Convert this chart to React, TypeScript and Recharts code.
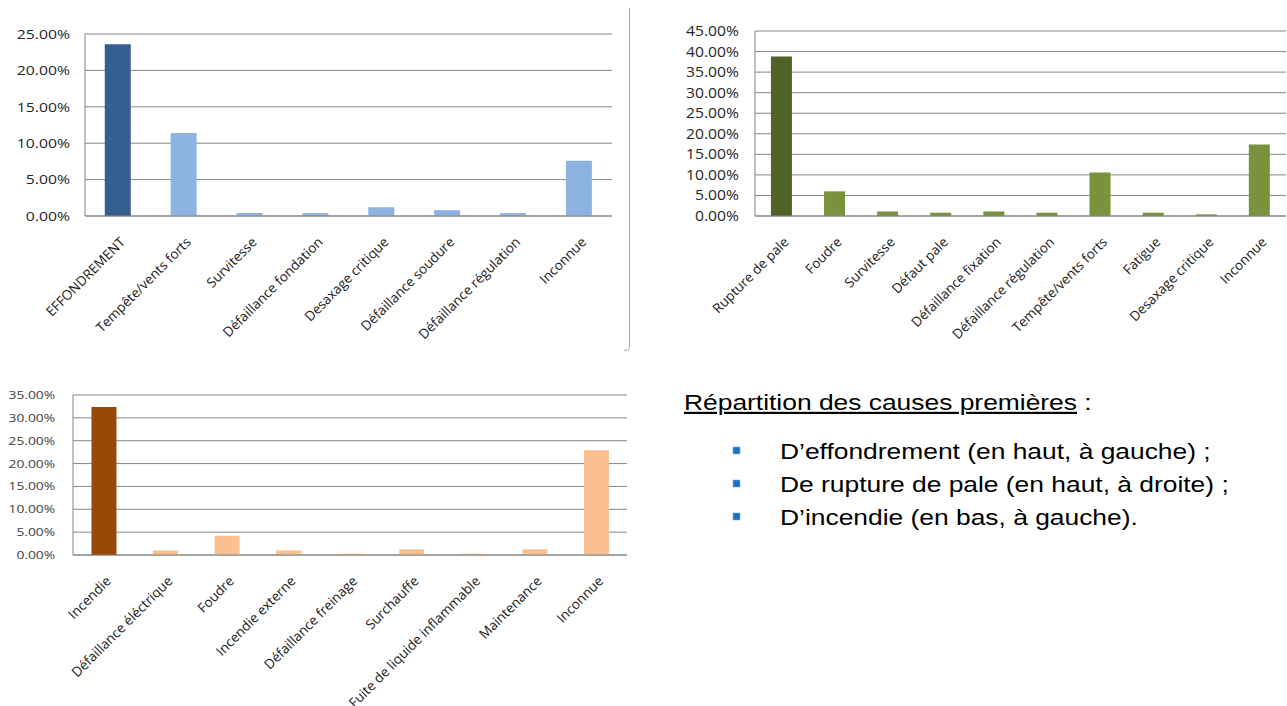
import React from 'react';
import { BarChart, Bar, XAxis, YAxis, CartesianGrid, Cell } from 'recharts';

// top-left : effondrement
const collapseCauses = ['EFFONDREMENT', 'Tempête/vents forts', 'Survitesse', 'Défaillance fondation', 'Desaxage critique', 'Défaillance soudure', 'Défaillance régulation', 'Inconnue'];
const collapseShare = [0.236, 0.114, 0.004, 0.004, 0.012, 0.008, 0.004, 0.076];
const collapseTicks = [0, 0.05, 0.1, 0.15, 0.2, 0.25];

// top-right : rupture de pale
const bladeCauses = ['Rupture de pale', 'Foudre', 'Survitesse', 'Défaut pale', 'Défaillance fixation', 'Défaillance régulation', 'Tempête/vents forts', 'Fatigue', 'Desaxage critique', 'Inconnue'];
const bladeShare = [0.388, 0.06, 0.011, 0.008, 0.011, 0.008, 0.106, 0.008, 0.004, 0.174];
const bladeTicks = [0, 0.05, 0.1, 0.15, 0.2, 0.25, 0.3, 0.35, 0.4, 0.45];

// bottom-left : incendie
const fireCauses = ['Incendie', 'Défaillance éléctrique', 'Foudre', 'Incendie externe', 'Défaillance freinage', 'Surchauffe', 'Fuite de liquide inflammable', 'Maintenance', 'Inconnue'];
const fireShare = [0.324, 0.01, 0.042, 0.01, 0.003, 0.0125, 0.003, 0.0125, 0.229];
const fireTicks = [0, 0.05, 0.1, 0.15, 0.2, 0.25, 0.3, 0.35];

const bullets = ['D\u2019effondrement (en haut, à gauche) ;', 'De rupture de pale (en haut, à droite) ;', 'D\u2019incendie (en bas, à gauche).'];

const GRID = '#868686';
const FONT = '"Open Sans", sans-serif';

const pct = (v: number) => (v * 100).toFixed(2) + '%';
const rows = (cats: string[], vals: number[]) => cats.map((name, i) => ({ name, value: vals[i] }));

function XTick(props: any) {
  const { x, y, payload } = props;
  return (
    <g transform={`translate(${x + 8},${y + 27})`}>
      <text textAnchor="end" transform="rotate(-45)" fontSize={13.5} fill="#1a1a1a" fontFamily={FONT}>
        {payload.value}
      </text>
    </g>
  );
}

function makeYTick(fs: number, sx: number, color: string) {
  return (props: any) => {
    const { x, y, payload } = props;
    return (
      <g transform={`translate(${x},${y}) scale(${sx},1)`}>
        <text textAnchor="end" dy="0.36em" fontSize={fs} fill={color} fontFamily={FONT}>
          {pct(payload.value)}
        </text>
      </g>
    );
  };
}

type PanelProps = {
  left: number; top: number; width: number; height: number;
  margin: any; yWidth: number; xHeight: number; yGap: number;
  data: { name: string; value: number }[]; ticks: number[];
  main: string; rest: string; yTick: any;
};

function Panel(p: PanelProps) {
  return (
    <div style={{ position: 'absolute', left: p.left, top: p.top }}>
      <BarChart width={p.width} height={p.height} data={p.data} margin={p.margin} barCategoryGap="30%">
        <CartesianGrid vertical={false} stroke={GRID} strokeWidth={1} />
        <XAxis dataKey="name" interval={0} height={p.xHeight} tickSize={0} tickMargin={0}
          axisLine={{ stroke: GRID }} tickLine={false} tick={(t: any) => <XTick {...t} />} />
        <YAxis width={p.yWidth} domain={[0, p.ticks[p.ticks.length - 1]]} ticks={p.ticks} interval={0}
          tickSize={0} tickMargin={p.yGap} axisLine={{ stroke: GRID }} tickLine={false} tick={p.yTick} />
        <Bar dataKey="value" isAnimationActive={false}>
          {p.data.map((d, i) => (
            <Cell key={d.name + i} fill={i === 0 ? p.main : p.rest} />
          ))}
        </Bar>
      </BarChart>
    </div>
  );
}

export default function App() {
  return (
    <div style={{ position: 'absolute', left: 0, top: 0, width: 1287, height: 706, background: '#fff', overflow: 'hidden' }}>
      <Panel left={0} top={0} width={620} height={360} margin={{ top: 34, right: 8, bottom: 0, left: 0 }}
        yWidth={85} xHeight={144} yGap={15} data={rows(collapseCauses, collapseShare)} ticks={collapseTicks}
        main="#365f91" rest="#8db3e2" yTick={makeYTick(13.5, 1.17, '#262626')} />

      <Panel left={640} top={0} width={647} height={360} margin={{ top: 31, right: 1, bottom: 0, left: 0 }}
        yWidth={115} xHeight={144} yGap={16} data={rows(bladeCauses, bladeShare)} ticks={bladeTicks}
        main="#4f6228" rest="#77933c" yTick={makeYTick(14, 1.12, '#262626')} />

      <Panel left={0} top={370} width={640} height={336} margin={{ top: 25, right: 13, bottom: 0, left: 0 }}
        yWidth={73} xHeight={151} yGap={18} data={rows(fireCauses, fireShare)} ticks={fireTicks}
        main="#984807" rest="#fac090" yTick={makeYTick(11, 1.25, '#404040')} />

      <div style={{ position: 'absolute', left: 624, top: 8, width: 5, height: 342, borderRight: '1.5px solid #a6a6a6', borderBottom: '1.5px solid #a6a6a6', borderBottomRightRadius: 5 }} />

      <svg width={1287} height={706} style={{ position: 'absolute', left: 0, top: 0, pointerEvents: 'none' }}>
        <g transform="translate(684,410) scale(1.2,1)">
          <text fontSize={22} fontFamily='"Liberation Sans", Arial, sans-serif' fill="#000">
            <tspan style={{ textDecoration: 'underline' }}>Répartition des causes premières</tspan>
            <tspan> :</tspan>
          </text>
        </g>
        {bullets.map((b, i) => (
          <g key={b}>
            <rect x={733} y={447 + i * 33} width={7} height={7} fill="#1a72c4" stroke="#7fb0e0" strokeWidth={0.6} />
            <g transform={`translate(780,${459 + i * 33}) scale(1.2,1)`}>
              <text fontSize={22} fontFamily='"Liberation Sans", Arial, sans-serif' fill="#000">{b}</text>
            </g>
          </g>
        ))}
      </svg>
    </div>
  );
}
